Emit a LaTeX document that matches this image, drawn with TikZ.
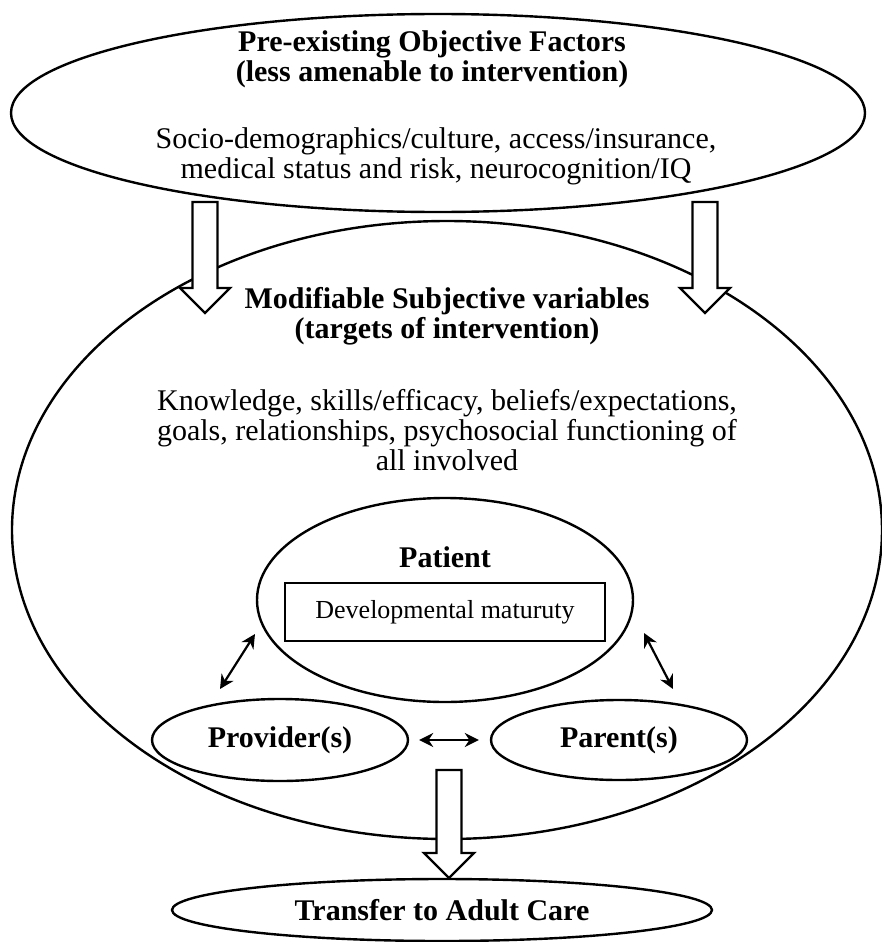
\documentclass[tikz,border=0pt]{standalone}
\usepackage{fontspec}
\setmainfont{Liberation Serif}
\usetikzlibrary{arrows.meta,positioning,shapes.geometric}

\tikzset{
  oval/.style={draw,ellipse,line width=2.4pt,inner sep=0pt},
  txt/.style={align=center,font=\fontsize{30}{30}\selectfont},
  btxt/.style={align=center,font=\fontsize{30}{30}\selectfont\bfseries},
  twohead/.style={{Stealth[length=14pt,width=14pt]}-{Stealth[length=14pt,width=14pt]},line width=2.2pt},
  hollow/.style={draw,fill=white,line width=2.4pt,line join=miter}
}
% hollow block arrow: x, top of shaft, tip
\newcommand{\hollowarrow}[3]{%
  \draw[hollow] (#1-12.5,#2) -- (#1+12.5,#2) -- (#1+12.5,#3-25) -- (#1+25,#3-25)
    -- (#1,#3) -- (#1-25,#3-25) -- (#1-12.5,#3-25) -- cycle;}

\begin{document}
\begin{tikzpicture}[x=1pt,y=-1pt]
  \useasboundingbox (0,0) rectangle (882,942);
  % Objective factors
  \node[oval,minimum width=854pt,minimum height=198pt] (objective) at (438,113) {};
  \node[btxt] (objtitle) at (432,59) {Pre-existing Objective Factors\\(less amenable to intervention)};
  \node[txt] (objlist) at (436,156) {Socio-demographics/culture, access/insurance,\\medical status and risk, neurocognition/IQ};
  % Subjective variables
  \node[oval,minimum width=870pt,minimum height=618pt] (subjective) at (447,530) {};
  \node[btxt] (subtitle) at (447,316) {Modifiable Subjective variables\\(targets of intervention)};
  \node[txt] (sublist) at (447,430) {Knowledge, skills/efficacy, beliefs/expectations,\\goals, relationships, psychosocial functioning of\\all involved};
  % Flow into the subjective ellipse
  \hollowarrow{205}{202}{313}
  \hollowarrow{705}{202}{313}
  % Patient, provider, parent
  \node[oval,minimum width=376pt,minimum height=204pt] (patient) at (445,600) {};
  \node[btxt] (patientlabel) at (445,557) {Patient};
  \node[draw,line width=1.3pt,minimum width=320pt,minimum height=58pt,
    font=\fontsize{26}{26}\selectfont] (maturity) at (445,612) {Developmental maturuty};
  \node[oval,minimum width=256pt,minimum height=82pt,btxt] (provider) at (280,740) {Provider(s)};
  \node[oval,minimum width=256pt,minimum height=80pt,btxt] (parent) at (619,740) {Parent(s)};
  \coordinate (pl) at (255,634);
  \coordinate (pv) at (220,689);
  \coordinate (pr) at (644,633);
  \coordinate (pa) at (673,689);
  \draw[twohead] (pl) -- (pv);
  \draw[twohead] (pr) -- (pa);
  \draw[twohead] ([xshift=10pt]provider.east) -- ([xshift=-11pt]parent.west);
  % Transfer
  \node[oval,minimum width=540pt,minimum height=62pt,btxt] (transfer) at (442,910) {Transfer to Adult Care};
  \hollowarrow{449}{770}{878}
\end{tikzpicture}
\end{document}
